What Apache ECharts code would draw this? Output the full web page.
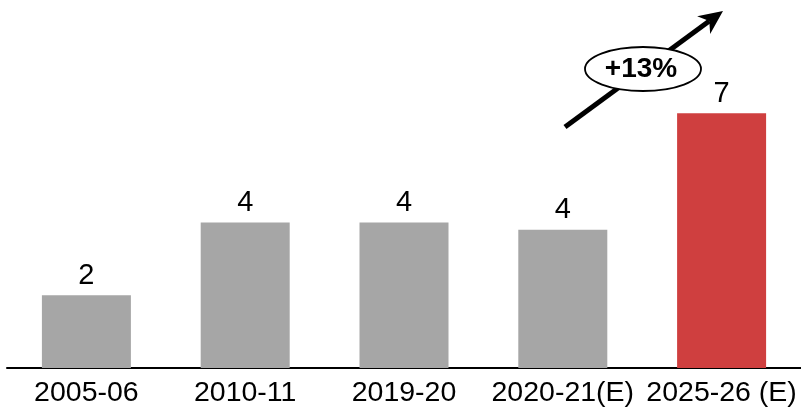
<!DOCTYPE html>
<html>
<head>
<meta charset="utf-8">
<script src="https://cdn.jsdelivr.net/npm/echarts@6/dist/echarts.min.js"></script>
<style>html,body{margin:0;padding:0;background:#fff;}#c{width:801px;height:408px;}</style>
</head>
<body>
<div id="c"></div>
<script>
const categories = ['2005-06', '2010-11', '2019-20', '2020-21(E)', '2025-26 (E)'];
const values = [2, 4, 4, 3.8, 7];
const barColors = ['#A6A6A6', '#A6A6A6', '#A6A6A6', '#A6A6A6', '#CF3F3F'];
const growthLabel = '+13%';

const chart = echarts.init(document.getElementById('c'), null, {renderer: 'canvas'});

// arrow geometry (annotation)
const tail = [565, 127], tip = [723, 11];
const dx = tip[0] - tail[0], dy = tip[1] - tail[1];
const len = Math.sqrt(dx * dx + dy * dy);
const ux = dx / len, uy = dy / len, px = -uy, py = ux;
const headLen = 24, headHalf = 11, notch = 17;
const bx = tip[0] - headLen * ux, by = tip[1] - headLen * uy;
const nx = tip[0] - notch * ux, ny = tip[1] - notch * uy;

chart.setOption({
  animation: false,
  grid: {left: 7, right: -2, top: 4, bottom: 40},
  xAxis: {
    type: 'category',
    data: categories,
    axisLine: {show: true, lineStyle: {color: '#000', width: 2}},
    axisTick: {show: false},
    axisLabel: {color: '#000', fontSize: 28.5, fontFamily: 'Liberation Sans, Arial, sans-serif', margin: 11, interval: 0}
  },
  yAxis: {type: 'value', min: 0, max: 10, show: false, splitLine: {show: false}},
  series: [{
    type: 'bar',
    barWidth: 89,
    data: values.map((v, i) => ({value: v, itemStyle: {color: barColors[i]}})),
    label: {
      show: true, position: 'top', distance: 5,
      color: '#000', fontSize: 29, fontFamily: 'Liberation Sans, Arial, sans-serif',
      formatter: p => String(Math.round(p.value))
    }
  }],
  graphic: [
    {type: 'line', shape: {x1: tail[0], y1: tail[1], x2: nx, y2: ny}, style: {stroke: '#000', lineWidth: 5}, z: 10},
    {type: 'polygon', shape: {points: [tip, [bx + headHalf * px, by + headHalf * py], [nx, ny], [bx - headHalf * px, by - headHalf * py]]}, style: {fill: '#000'}, z: 10},
    {type: 'ellipse', shape: {cx: 643, cy: 69, rx: 58, ry: 22}, style: {fill: '#fff', stroke: '#000', lineWidth: 1.8}, z: 11},
    {type: 'text', x: 641, y: 69, style: {text: growthLabel, fill: '#000', font: 'bold 28px Liberation Sans, Arial, sans-serif', textAlign: 'center', textVerticalAlign: 'middle'}, z: 12}
  ]
});
</script>
</body>
</html>
